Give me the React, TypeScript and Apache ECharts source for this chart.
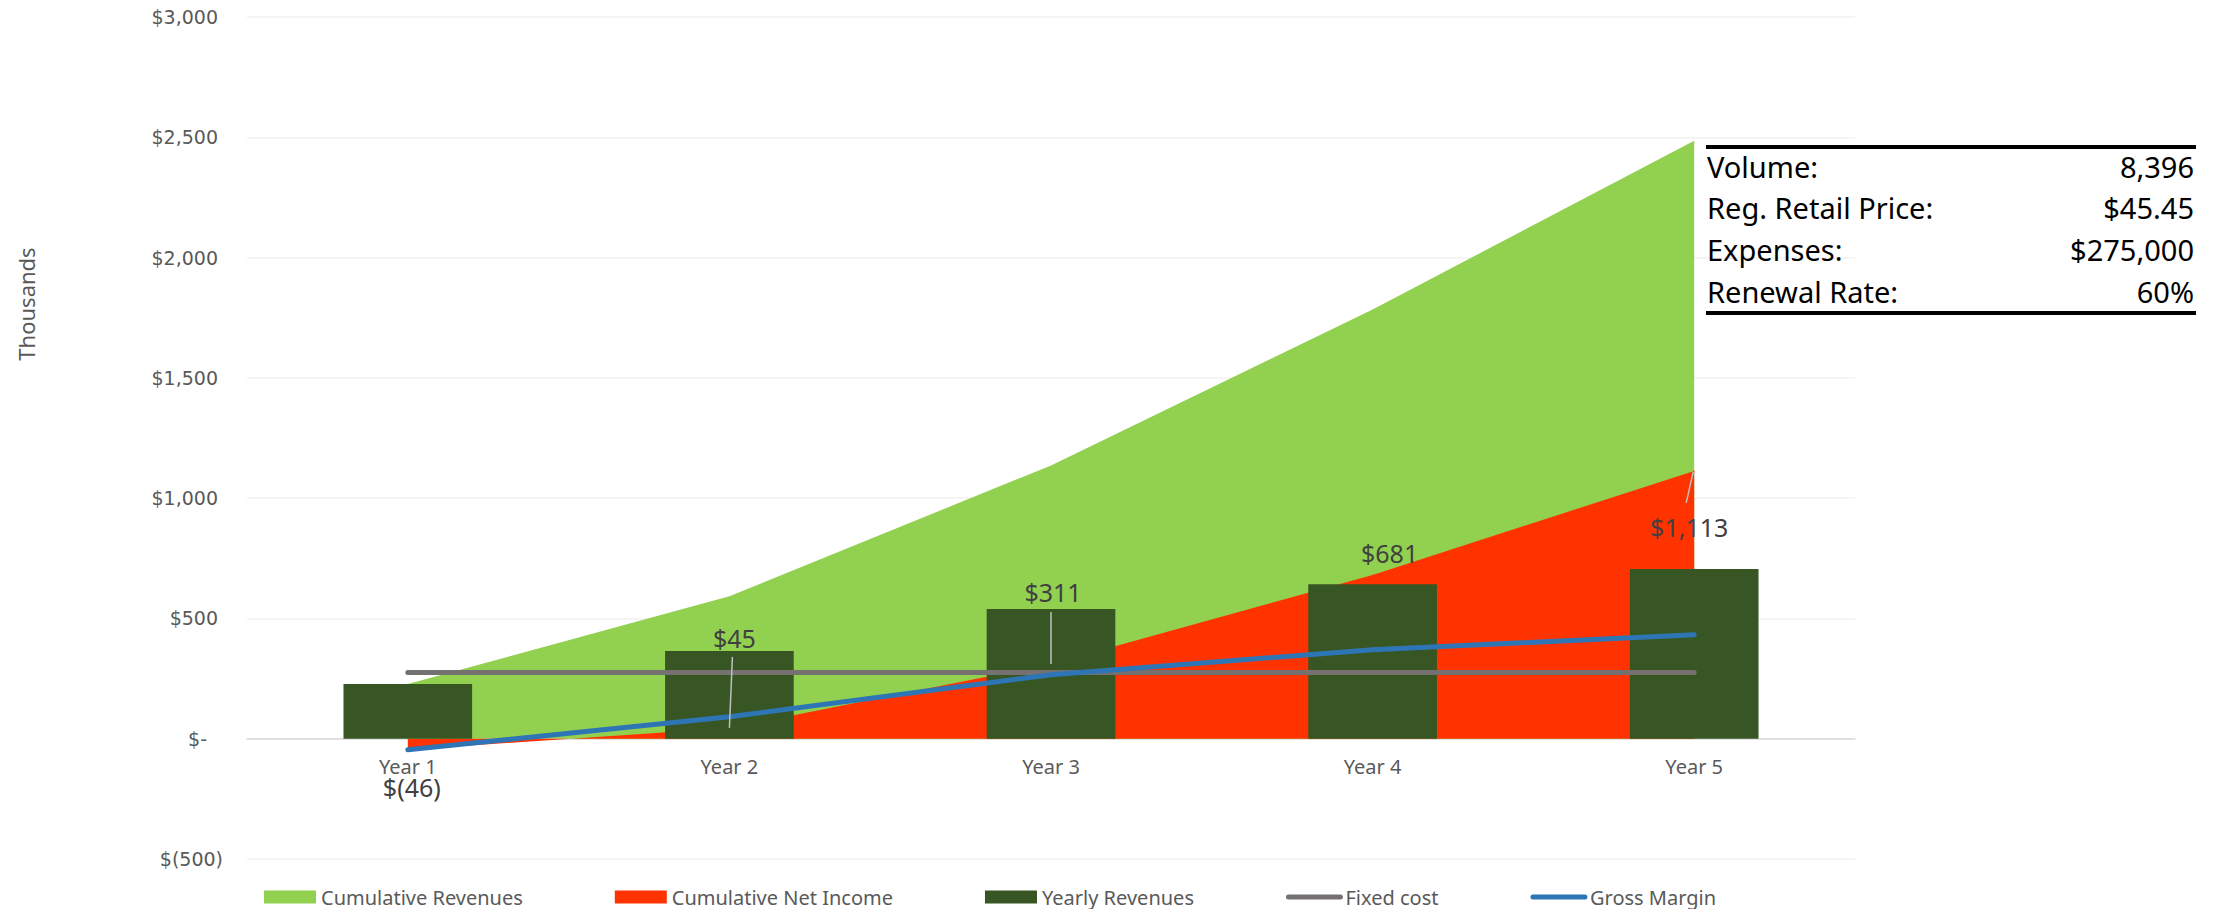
import React, { useEffect, useRef } from 'react';
import * as echarts from 'echarts';

// ---- data ----
const categories = ['Year 1', 'Year 2', 'Year 3', 'Year 4', 'Year 5'];
const cumulativeRevenues = [227, 592, 1136, 1784, 2486];
const cumulativeNetIncome = [-46, 45, 311, 681, 1113];
const yearlyRevenues = [227, 365, 539, 642, 705];
const fixedCost = [275, 275, 275, 275, 275];
const grossMargin = [-46, 91, 266, 370, 432];
const tableLabels = ['Volume:', 'Reg. Retail Price:', 'Expenses:', 'Renewal Rate:'];
const tableValues = ['8,396', '$45.45', '$275,000', '60%'];
const yAxisName = 'Thousands';
const yMin = -500;
const yMax = 3000;
const yStep = 500;

// ---- styling (label placement relative to points) ----
const labelOffsets: number[][] = [[4, 37], [5, -90], [2, -72], [17, -22], [-5, 56]];
const leaderLines = [
  { index: 1, from: [3, -71], to: [0, 0] },
  { index: 2, from: [0, -52], to: [0, 0] },
  { index: 4, from: [-8, 32], to: [-1, 1] },
];

const FONT = '"Noto Sans", "Open Sans", sans-serif';
const YFONT = '"DejaVu Sans", Verdana, sans-serif';
const AXIS_COLOR = '#595959';
const W = 2225, H = 909;
const GRID = { left: 247, right: 370, top: 17, bottom: 50 };

function money(v: number): string {
  if (v === 0) return '$-';
  if (v < 0) return '$(' + Math.abs(v).toLocaleString('en-US') + ')';
  return '$' + v.toLocaleString('en-US');
}

export default function App() {
  const ref = useRef<HTMLDivElement>(null);
  useEffect(() => {
    document.body.style.margin = '0';
    const chart = echarts.init(ref.current!, null, { renderer: 'svg' });
    const plotH = H - GRID.top - GRID.bottom;
    const zeroOffset = -plotH * (0 - yMin) / (yMax - yMin);
    const transparentSymbol = { color: 'rgba(0,0,0,0)', borderColor: 'rgba(0,0,0,0)', borderWidth: 0 };
    const option: any = {
      animation: false,
      backgroundColor: '#ffffff',
      grid: { ...GRID, containLabel: false },
      legend: {
        left: 259,
        top: 881,
        itemWidth: 52,
        itemHeight: 13,
        itemGap: 92,
        textStyle: { color: AXIS_COLOR, fontSize: 20, fontFamily: FONT, lineHeight: 22 },
        data: [
          { name: 'Cumulative Revenues', icon: 'rect', itemStyle: { color: '#92D050' } },
          { name: 'Cumulative Net Income', icon: 'rect', itemStyle: { color: '#FF3300' } },
          { name: 'Yearly Revenues', icon: 'rect', itemStyle: { color: '#375623' } },
          { name: 'Fixed cost', itemStyle: transparentSymbol, lineStyle: { color: '#767171', width: 5, cap: 'round' } },
          { name: 'Gross Margin', itemStyle: transparentSymbol, lineStyle: { color: '#2E75B6', width: 5, cap: 'round' } },
        ],
      },
      xAxis: {
        type: 'category',
        data: categories,
        offset: zeroOffset,
        axisLine: { onZero: false, lineStyle: { color: '#D9D9D9', width: 1.5 } },
        axisTick: { show: false },
        axisLabel: { color: AXIS_COLOR, fontSize: 20, fontFamily: FONT, margin: 18 },
        splitLine: { show: false },
      },
      yAxis: {
        type: 'value',
        min: yMin,
        max: yMax,
        interval: yStep,
        axisLine: { show: false },
        axisTick: { show: false },
        splitLine: { lineStyle: { color: '#F2F2F2', width: 1.5 } },
        axisLabel: {
          margin: 24,
          color: AXIS_COLOR,
          fontSize: 19,
          fontFamily: YFONT,
          formatter: (v: number) => {
            if (v === 0) return '{z|' + money(v) + '}';
            if (v < 0) return '{n|' + money(v) + '}';
            return '{p|' + money(v) + '}';
          },
          rich: {
            p: { padding: [0, 5, 0, 0], color: AXIS_COLOR, fontSize: 19, fontFamily: YFONT },
            z: { padding: [0, 16, 0, 0], color: AXIS_COLOR, fontSize: 19, fontFamily: YFONT },
            n: { color: AXIS_COLOR, fontSize: 19, fontFamily: YFONT },
          },
        },
      },
      series: [
        {
          name: 'Cumulative Revenues',
          type: 'line',
          z: 1,
          data: cumulativeRevenues,
          symbol: 'none',
          lineStyle: { width: 0 },
          itemStyle: { color: '#92D050' },
          areaStyle: { color: '#92D050', opacity: 1 },
        },
        {
          name: 'Cumulative Net Income',
          type: 'line',
          z: 1,
          data: cumulativeNetIncome.map((v, i) => ({ value: v, label: { offset: labelOffsets[i] } })),
          symbol: 'circle',
          symbolSize: 1,
          showSymbol: true,
          lineStyle: { width: 0 },
          itemStyle: { color: '#FF3300' },
          areaStyle: { color: '#FF3300', opacity: 1 },
          label: {
            show: true,
            position: 'inside',
            color: '#404040',
            fontSize: 25,
            fontFamily: FONT,
            formatter: (p: any) => money(p.value),
          },
        },
        {
          name: 'Yearly Revenues',
          type: 'bar',
          z: 3,
          data: yearlyRevenues,
          barWidth: '40%',
          itemStyle: { color: '#375623' },
        },
        {
          name: 'Fixed cost',
          type: 'line',
          z: 4,
          data: fixedCost,
          symbol: 'none',
          itemStyle: { color: '#767171' },
          lineStyle: { color: '#767171', width: 5, cap: 'round' },
        },
        {
          name: 'Gross Margin',
          type: 'line',
          z: 5,
          data: grossMargin,
          symbol: 'none',
          itemStyle: { color: '#2E75B6' },
          lineStyle: { color: '#2E75B6', width: 5, cap: 'round' },
        },
      ],
    };
    chart.setOption(option);

    const graphics: any[] = [];
    graphics.push({
      type: 'text',
      x: 26,
      y: 304,
      rotation: Math.PI / 2,
      z: 100,
      style: { text: yAxisName, fill: AXIS_COLOR, fontSize: 22, fontFamily: FONT, align: 'center', verticalAlign: 'middle' },
    });
    const tLeft = 1706, tRight = 2196, tTop = 147, tBottom = 313;
    graphics.push({ type: 'line', z: 100, shape: { x1: tLeft, y1: tTop, x2: tRight, y2: tTop }, style: { stroke: '#000', lineWidth: 4 } });
    graphics.push({ type: 'line', z: 100, shape: { x1: tLeft, y1: tBottom, x2: tRight, y2: tBottom }, style: { stroke: '#000', lineWidth: 4 } });
    const rowY0 = 166, rowStep = 41.7;
    tableLabels.forEach((t, i) => {
      graphics.push({ type: 'text', z: 100, x: tLeft + 1, y: rowY0 + i * rowStep,
        style: { text: t, fill: '#000', fontSize: 29, fontFamily: FONT, align: 'left', verticalAlign: 'middle' } });
      graphics.push({ type: 'text', z: 100, x: tRight - 2, y: rowY0 + i * rowStep,
        style: { text: tableValues[i], fill: '#000', fontSize: 29, fontFamily: FONT, align: 'right', verticalAlign: 'middle' } });
    });
    leaderLines.forEach((l) => {
      const p = chart.convertToPixel({ seriesIndex: 1 }, [l.index, cumulativeNetIncome[l.index]]) as number[];
      graphics.push({ type: 'line', z: 100,
        shape: { x1: p[0] + l.from[0], y1: p[1] + l.from[1], x2: p[0] + l.to[0], y2: p[1] + l.to[1] },
        style: { stroke: '#BFBFBF', lineWidth: 1.5 } });
    });
    chart.setOption({ graphic: graphics });

    return () => chart.dispose();
  }, []);
  return <div ref={ref} style={{ width: W, height: H }} />;
}
